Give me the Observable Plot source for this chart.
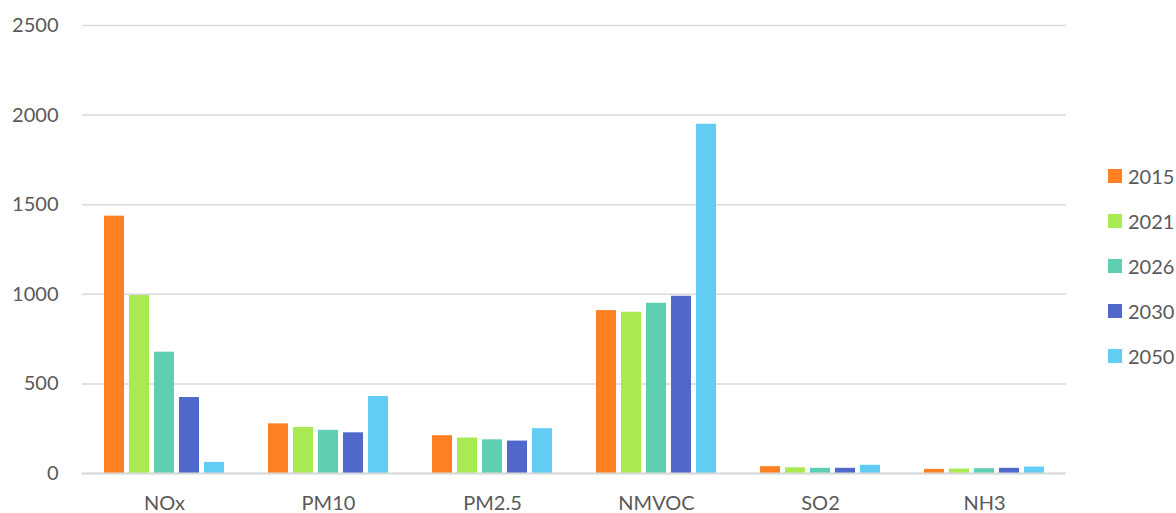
<!DOCTYPE html>
<html>
<head>
<meta charset="utf-8">
<script src="https://cdn.jsdelivr.net/npm/d3@7"></script>
<script src="https://cdn.jsdelivr.net/npm/@observablehq/plot@0.6"></script>
<style>
  body { margin: 0; background: #fff; font-family: Lato, "Open Sans", sans-serif; }
  #wrap { position: relative; width: 1176px; height: 513px; }
  .item { position: absolute; left: 1108px; display: flex; align-items: center; height: 24px; }
  .sw { width: 14px; height: 14px; margin-right: 6px; }
  .lab { font-size: 20px; color: #595959; line-height: 24px; }
</style>
</head>
<body>
<div id="wrap"></div>
<script>
const pollutants = ["NOx", "PM10", "PM2.5", "NMVOC", "SO2", "NH3"];
const years = ["2015", "2021", "2026", "2030", "2050"];
const colors = ["#FF7F22", "#A9EA52", "#5ECFB1", "#5068C9", "#61CCF4"];
const v2015 = [1436, 277, 211, 909, 38, 23];
const v2021 = [993, 257, 198, 900, 32, 25];
const v2026 = [677, 241, 188, 950, 29, 27];
const v2030 = [424, 227, 181, 989, 29, 29];
const v2050 = [62, 430, 250, 1949, 46, 36];
const yTicks = [0, 500, 1000, 1500, 2000, 2500];

const series = [v2015, v2021, v2026, v2030, v2050];
const data = [];
pollutants.forEach((p, i) => {
  years.forEach((y, j) => data.push({pollutant: p, year: y, value: series[j][i]}));
});

const chart = Plot.plot({
  width: 1176,
  height: 513,
  marginLeft: 82,
  marginRight: 110,
  marginTop: 25,
  marginBottom: 40,
  style: {fontFamily: "Lato, 'Open Sans', sans-serif", fontSize: "20px", color: "#595959", background: "#fff"},
  fx: {domain: pollutants, padding: 0, label: null, axis: "bottom", tickSize: 0, tickPadding: 22},
  x: {domain: years, paddingInner: 0.21, paddingOuter: 0.85, axis: null},
  y: {domain: [0, 2500], ticks: yTicks, tickFormat: d => String(d), label: null, tickSize: 0, tickPadding: 24},
  color: {domain: years, range: colors},
  marks: [
    Plot.ruleY(yTicks, {stroke: "#d9d9d9", strokeWidth: 1.5}),
    Plot.barY(data, {fx: "pollutant", x: "year", y: "value", fill: "year"}),
    Plot.ruleY([0], {stroke: "#d9d9d9", strokeWidth: 2})
  ]
});
const wrap = document.getElementById("wrap");
wrap.appendChild(chart);

years.forEach((y, j) => {
  const item = document.createElement("div");
  item.className = "item";
  item.style.top = (176 + j * 45 - 12) + "px";
  const sw = document.createElement("div");
  sw.className = "sw";
  sw.style.background = colors[j];
  const lab = document.createElement("span");
  lab.className = "lab";
  lab.textContent = y;
  item.appendChild(sw);
  item.appendChild(lab);
  wrap.appendChild(item);
});
</script>
</body>
</html>
